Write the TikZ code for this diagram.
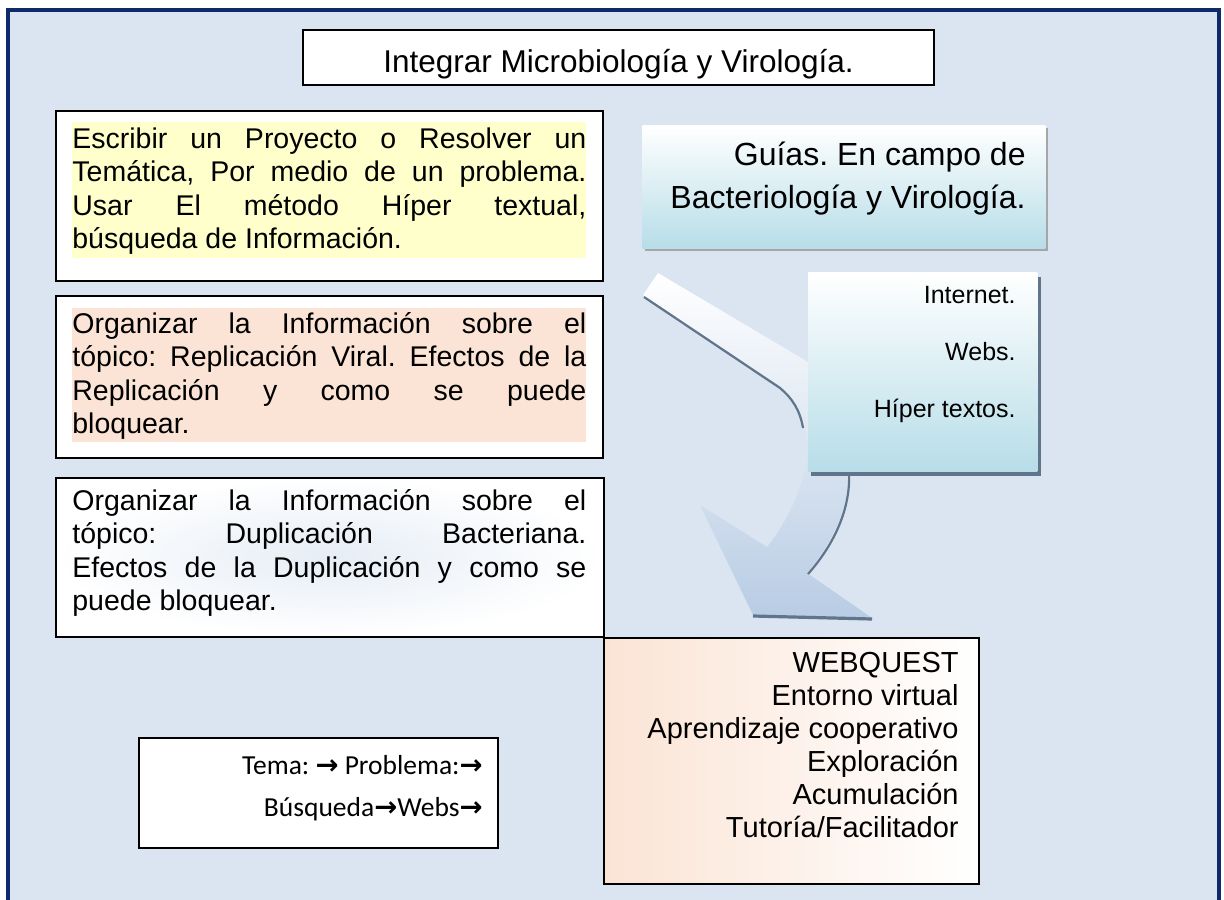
\documentclass[tikz,border=0pt]{standalone}
\usepackage{fontspec}
\setmainfont{Liberation Sans}
\newfontfamily\calibri{Carlito}
\newfontfamily\flechas{DejaVu Sans}
\usetikzlibrary{positioning}
\definecolor{fondo}{RGB}{219,229,241}
\definecolor{marco}{RGB}{16,41,107}
\definecolor{amarillo}{RGB}{255,255,204}
\definecolor{durazno}{RGB}{251,228,213}
\definecolor{celeste}{RGB}{183,221,232}
\definecolor{azulflecha}{RGB}{184,204,228}
\definecolor{sombra}{RGB}{96,116,140}
\setlength{\parindent}{0pt}
\frenchspacing
\newcommand{\fl}{{\flechas\bfseries →}}

\begin{document}
\begin{tikzpicture}[x=0.5pt,y=-0.5pt,
    caja/.style={draw=black, line width=1pt, inner sep=0pt},
    parrafo/.style={inner sep=0pt, anchor=north west, text width=257pt, align=justify,
        font=\fontsize{14.25}{16.75}\selectfont},
    lista/.style={inner sep=0pt, anchor=north east, align=right}]
    \useasboundingbox (0,0) rectangle (1224,899);
    \clip (0,0) rectangle (1224,899);
    \fill[white] (0,0) rectangle (1224,899);

    % page frame
    \fill[fondo] (8,10) rectangle (1219,930);
    \draw[marco, line width=2pt] (8,10) rectangle (1219,930);

    % title
    \node[caja, fill=white, minimum width=315.5pt, minimum height=27.5pt] (titulo) at (618.5,57.5) {};
    \node[inner sep=0pt, anchor=base, font=\fontsize{15.75}{18}\selectfont] (titulotxt) at (618.5,73) {Integrar Microbiología y Virología.};

    % left column boxes
    \node[caja, fill=white, anchor=north west, minimum width=273.5pt, minimum height=85pt] (caja1) at (55,110) {};
    \fill[amarillo] (72,122) rectangle (586,258);
    \node[parrafo] (escribir) at (72,127) {Escribir un Proyecto o Resolver un\linebreak
        Temática, Por medio de un problema.\linebreak
        Usar El método Híper textual,\linebreak
        búsqueda de Información.};

    \node[caja, fill=white, anchor=north west, minimum width=273.5pt, minimum height=81pt] (caja2) at (55,295) {};
    \fill[durazno] (72,308) rectangle (586,442);
    \node[parrafo] (replica) at (72,312) {Organizar la Información sobre el\linebreak
        tópico: Replicación Viral. Efectos de la\linebreak
        Replicación y como se puede\linebreak
        bloquear.};

    \node[caja, inner color=fondo!70!white, outer color=white, anchor=north west,
        minimum width=274pt, minimum height=79.5pt] (caja3) at (55,477) {};
    \node[parrafo] (duplica) at (72,489) {Organizar la Información sobre el\linebreak
        tópico: Duplicación Bacteriana.\linebreak
        Efectos de la Duplicación y como se\linebreak
        puede bloquear.};

    % curved arrow
    \shade[top color=white, bottom color=azulflecha]
        (658,273) -- (808,362) -- (848,400) -- (848,471)
        .. controls (850,510) and (830,545) .. (807,573)
        -- (872,618) -- (753,615) -- (700,505) -- (767,547)
        .. controls (785,525) and (800,495) .. (806,465)
        .. controls (812,440) and (800,405) .. (780,386)
        -- (643,295) -- cycle;
    \draw[sombra, line width=1.1pt] (644,297) -- (780,388) .. controls (792,398) and (800,410) .. (803,428);
    \draw[sombra, line width=1.1pt] (849,472) .. controls (851,512) and (831,548) .. (808,574);
    \draw[sombra, line width=1.6pt] (753,616) -- (872,619);

    % guides
    \fill[gray!70] (645,128) rectangle (1048,251);
    \node[inner sep=0pt, anchor=north west, minimum width=201.5pt, minimum height=61.5pt,
        top color=white, bottom color=celeste] (guias) at (642,125) {};
    \node[lista, font=\fontsize{16}{21.5}\selectfont] (guiastxt) at (1026,142)
        {Guías. En campo de\\Bacteriología y Virología.};

    % resources
    \fill[sombra] (1037,277) rectangle (1041,476);
    \fill[sombra] (811,471) rectangle (1041,476);
    \node[inner sep=0pt, anchor=north west, minimum width=114.5pt, minimum height=99.5pt,
        top color=white, bottom color=celeste] (recursos) at (808,272) {};
    \node[lista, font=\fontsize{12.5}{28.5}\selectfont] (recursostxt) at (1016,286)
        {Internet.\\Webs.\\Híper textos.};

    % webquest
    \node[caja, left color=durazno, right color=white, anchor=north west,
        minimum width=187.5pt, minimum height=123pt] (webquest) at (603,637) {};
    \node[lista, font=\fontsize{14.5}{16.5}\selectfont] (webquesttxt) at (959,652)
        {WEBQUEST\\Entorno virtual\\Aprendizaje cooperativo\\Exploración\\Acumulación\\Tutoría/Facilitador};

    % sequence
    \node[caja, fill=white, anchor=north west, minimum width=179.5pt, minimum height=55pt] (tema) at (138,737) {};
    \node[lista, font=\calibri\fontsize{13.75}{21}\selectfont] (tematxt) at (483,755)
        {Tema: \fl{} Problema:\fl\\Búsqueda\fl Webs\fl};
\end{tikzpicture}
\end{document}
